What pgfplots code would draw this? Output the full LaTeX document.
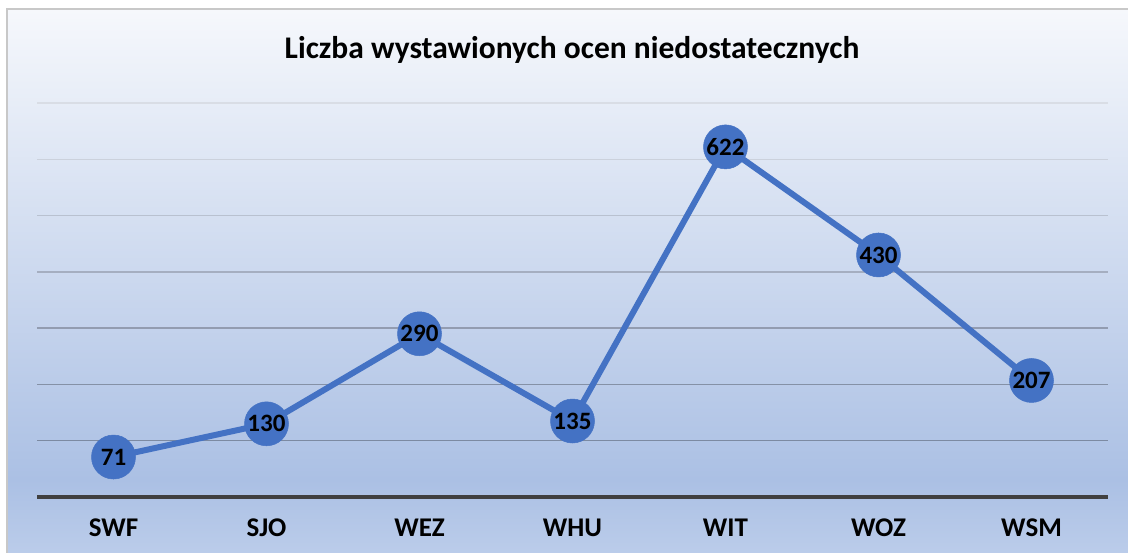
\documentclass[border=0pt]{standalone}
\usepackage{pgfplots}
\pgfplotsset{compat=1.18}
\usepackage{fontspec}
\setmainfont{Carlito}
\definecolor{bgtop}{HTML}{F6F8FC}
\definecolor{bgmid}{HTML}{ABC0E4}
\definecolor{bgbot}{HTML}{BDCEEB}
\definecolor{frame}{HTML}{C8C8C8}
\definecolor{serie}{HTML}{4472C4}
\definecolor{axisdark}{HTML}{404040}
\definecolor{g7}{HTML}{D9DDE5}
\definecolor{g6}{HTML}{CBD1DC}
\definecolor{g5}{HTML}{B9C1D0}
\definecolor{g4}{HTML}{A5AEC0}
\definecolor{g3}{HTML}{929CB0}
\definecolor{g2}{HTML}{8591A6}
\definecolor{g1}{HTML}{7C8AA2}
\begin{document}
\begin{tikzpicture}
\useasboundingbox (0,0) rectangle (1128pt,553pt);
\begin{scope}
\clip (0,0) rectangle (1128pt,553pt);
\shade[top color=bgtop, bottom color=bgmid] (7pt,73pt) rectangle (1140pt,544pt);
\shade[top color=bgmid, bottom color=bgbot] (7pt,-10pt) rectangle (1140pt,73.5pt);
\draw[frame, line width=2pt] (7pt,-10pt) rectangle (1140pt,544pt);
\end{scope}
\node[font=\bfseries\fontsize{31.5}{34}\selectfont] at (572pt,503pt) {Liczba wystawionych ocen niedostatecznych};
\begin{axis}[
    at={(37pt,56pt)}, anchor=south west,
    scale only axis, width=1071pt, height=394pt,
    xmin=-0.5, xmax=6.5, ymin=0, ymax=700,
    axis line style={draw=none}, tick style={draw=none},
    ytick=\empty,
    xtick={0,...,6},
    xticklabels={SWF,SJO,WEZ,WHU,WIT,WOZ,WSM},
    xticklabel style={anchor=center, yshift=-31pt, font=\bfseries\fontsize{27}{30}\selectfont},
    /pgf/number format/assume math mode=true,
    clip=false,
]
\draw[g7, line width=1.5pt] (axis cs:-0.5,700) -- (axis cs:6.5,700);
\draw[g6, line width=1.5pt] (axis cs:-0.5,600) -- (axis cs:6.5,600);
\draw[g5, line width=1.5pt] (axis cs:-0.5,500) -- (axis cs:6.5,500);
\draw[g4, line width=1.5pt] (axis cs:-0.5,400) -- (axis cs:6.5,400);
\draw[g3, line width=1.5pt] (axis cs:-0.5,300) -- (axis cs:6.5,300);
\draw[g2, line width=1.5pt] (axis cs:-0.5,200) -- (axis cs:6.5,200);
\draw[g1, line width=1.5pt] (axis cs:-0.5,100) -- (axis cs:6.5,100);
\draw[axisdark, line width=4pt] (axis cs:-0.5,0) -- (axis cs:6.5,0);
\addplot[serie, line width=6pt, mark=*, mark size=22pt,
    mark options={fill=serie, draw=serie, line width=0.5pt},
    nodes near coords,
    every node near coord/.append style={anchor=center, text=black,
        font=\bfseries\fontsize{25}{27}\selectfont}]
coordinates {(0,71)(1,130)(2,290)(3,135)(4,622)(5,430)(6,207)};
\end{axis}
\end{tikzpicture}
\end{document}
